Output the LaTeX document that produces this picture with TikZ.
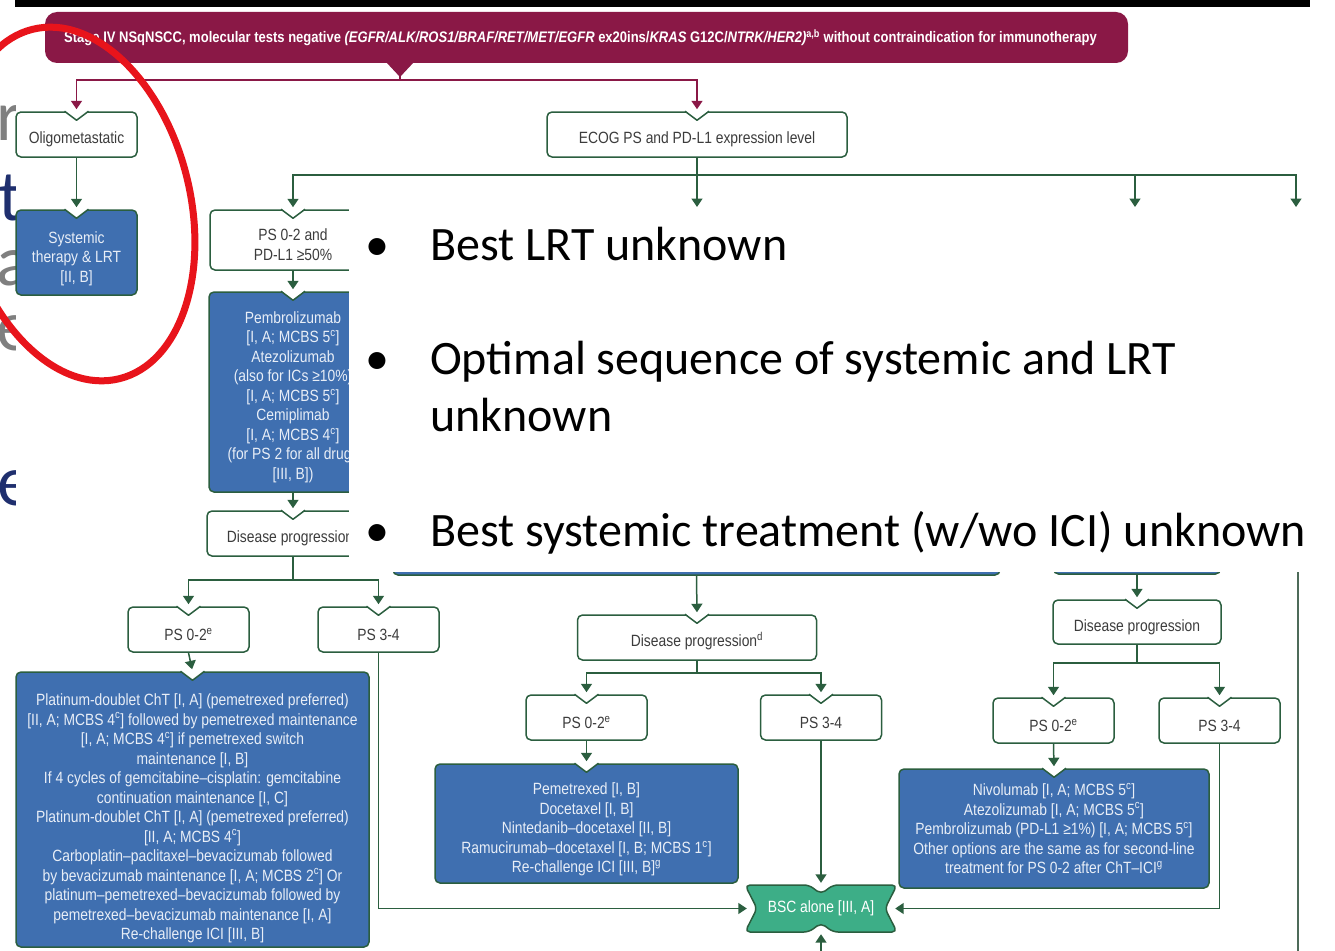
\documentclass[tikz,border=0pt]{standalone}
\usepackage{fontspec}
\setmainfont{Liberation Sans}
\newfontfamily\condf[FakeStretch=0.85]{Liberation Sans}
\newfontfamily\calf{Carlito}
\usetikzlibrary{arrows.meta,calc}
\definecolor{maroon}{HTML}{8A1846}
\definecolor{lc}{HTML}{2B5E3F}
\definecolor{bl}{HTML}{3F6FB0}
\definecolor{bt}{HTML}{E8EEF7}
\definecolor{tw}{HTML}{3C3C3C}
\definecolor{bscgreen}{HTML}{3DAE87}
\definecolor{redc}{HTML}{E8141B}
\definecolor{grayl}{HTML}{7F7F7F}
\definecolor{navy}{HTML}{1F2F6E}
\tikzset{
  boxbase/.style={rectangle, rounded corners=5pt, line width=1.5pt, draw=lc, inner sep=0pt, align=center, font=\condf\fontsize{16.3}{19.5}\selectfont},
  wbox/.style={boxbase, fill=white, text=tw},
  bbox/.style={boxbase, fill=bl, text=bt},
  conn/.style={draw=lc, line width=1.5pt, -{Triangle[width=11pt,length=8.5pt]}, shorten >=2pt},
  sconn/.style={draw=lc, line width=1.5pt, -{Triangle[width=11pt,length=8.5pt]}, shorten >=-2pt},
  ln/.style={draw=lc, line width=1.5pt},
  mconn/.style={draw=maroon, line width=1.6pt, -{Triangle[width=11pt,length=8.5pt]}, shorten >=2pt},
  mln/.style={draw=maroon, line width=1.6pt},
  bul/.style={font=\calf\fontsize{48}{57}\selectfont, inner sep=0pt, text=black},
  edgeletter/.style={inner sep=0pt, anchor=base west, font=\calf\fontsize{72}{72}\selectfont},
}
% empty first line that pushes the text of a box a little down (below the notch)
\newcommand\tg[1]{\mbox{}\\[#1]}
\newcommand\mynotch[1]{%
  \fill[white] ($(#1.north)+(-12pt,1pt)$) -- ($(#1.north)+(0,-9pt)$) -- ($(#1.north)+(12pt,1pt)$) -- cycle;
  \draw[ln, line join=round] ($(#1.north)+(-12pt,0)$) -- ($(#1.north)+(0,-9pt)$) -- ($(#1.north)+(12pt,0)$);}
\begin{document}
\begin{tikzpicture}[x=1pt,y=-1pt]
\useasboundingbox (0,0) rectangle (1335,950);
\clip (0,0) rectangle (1335,950);

% slide letters at left edge
\begin{scope}
  \clip (0,0) rectangle (15,950);
  \node[edgeletter, text=grayl] (l1) at (-4,140) {r};
  \node[edgeletter, text=navy] (l2) at (-2,220) {t};
  \node[edgeletter, text=grayl] (l3) at (-4,285) {a};
  \node[edgeletter, text=grayl] (l4) at (-4,350) {e:};
  \node[edgeletter, text=navy] (l5) at (-3,505) {ed};
\end{scope}

% top bar
\fill[black] (15,0) rectangle (1310,7);

% header
\node[fill=maroon, rounded corners=12pt, minimum width=1083pt, minimum height=51pt, inner sep=0pt, text=white, font=\condf\bfseries\fontsize{15.3}{18}\selectfont] (hdr) at (586.5,37.5)
  {Stage IV NSqNSCC, molecular tests negative \textit{(EGFR/ALK/ROS1/BRAF/RET/MET/EGFR} ex20ins/\textit{KRAS} G12C/\textit{NTRK/HER2)}\textsuperscript{a,b} without contraindication for immunotherapy\hspace*{12pt}};
\fill[maroon] (386,62) -- (414,62) -- (400,77) -- cycle;
\coordinate (hp) at (400,70);
\coordinate (hsplit) at (400,80);

% nodes
\node[wbox, minimum width=121pt, minimum height=45pt] (oligo) at (76.5,134.5) {\tg{2.5pt}Oligometastatic};
\node[bbox, minimum width=121pt, minimum height=85pt] (sys) at (76.5,252.5) {\tg{4.5pt}Systemic\\therapy \& LRT\\{}[II, B]};
\node[wbox, minimum width=300pt, minimum height=45pt] (ecog) at (697,134.5) {\tg{2.5pt}ECOG PS and PD-L1 expression level};
\node[wbox, minimum width=166pt, minimum height=60pt] (pdl1) at (293,240) {\tg{2pt}PS 0-2 and\\PD-L1 ≥50\%};
\node[bbox, minimum width=168pt, minimum height=200pt] (pembro) at (293,392) {\tg{2.5pt}Pembrolizumab\\{}[I, A; MCBS 5\textsuperscript{c}]\\Atezolizumab\\(also for ICs ≥10\%)\\{}[I, A; MCBS 5\textsuperscript{c}]\\Cemiplimab\\{}[I, A; MCBS 4\textsuperscript{c}]\\(for PS 2 for all drugs\\{}[III, B])};
\node[wbox, minimum width=172pt, minimum height=45pt] (dp1) at (293,533.5) {\tg{2.5pt}Disease progression\textsuperscript{d}};
\node[wbox, minimum width=121pt, minimum height=45pt] (ps02a) at (188.5,629.5) {\tg{2.5pt}PS 0-2\textsuperscript{e}};
\node[wbox, minimum width=121pt, minimum height=45pt] (ps34a) at (378.5,629.5) {\tg{2.5pt}PS 3-4};
\node[bbox, minimum width=353pt, minimum height=275pt] (big) at (192.5,809.5) {\tg{10pt}Platinum-doublet ChT [I, A] (pemetrexed preferred)\\{}[II, A; MCBS 4\textsuperscript{c}] followed by pemetrexed maintenance\\{}[I, A; MCBS 4\textsuperscript{c}] if pemetrexed switch\\maintenance [I, B]\\If 4 cycles of gemcitabine–cisplatin: gemcitabine\\continuation maintenance [I, C]\\Platinum-doublet ChT [I, A] (pemetrexed preferred)\\{}[II, A; MCBS 4\textsuperscript{c}]\\Carboplatin–paclitaxel–bevacizumab followed\\by bevacizumab maintenance [I, A; MCBS 2\textsuperscript{c}] Or\\platinum–pemetrexed–bevacizumab followed by\\pemetrexed–bevacizumab maintenance [I, A]\\Re-challenge ICI [III, B]};

\node[bbox, minimum width=607pt, minimum height=135pt] (hidM) at (696.5,507.5) {};
\node[bbox, minimum width=167pt, minimum height=134pt] (hidR) at (1137,507) {};

\node[wbox, minimum width=239pt, minimum height=45pt] (dp2) at (697,637.5) {\tg{2.5pt}Disease progression\textsuperscript{d}};
\node[wbox, minimum width=121pt, minimum height=45pt] (ps02b) at (586.5,717.5) {\tg{2.5pt}PS 0-2\textsuperscript{e}};
\node[wbox, minimum width=121pt, minimum height=45pt] (ps34b) at (821,717.5) {\tg{2.5pt}PS 3-4};
\node[bbox, minimum width=303pt, minimum height=119pt] (midb) at (586.5,823.5) {\tg{4.5pt}Pemetrexed [I, B]\\Docetaxel [I, B]\\Nintedanib–docetaxel [II, B]\\Ramucirumab–docetaxel [I, B; MCBS 1\textsuperscript{c}]\\Re-challenge ICI [III, B]\textsuperscript{g}};

\node[wbox, minimum width=168pt, minimum height=44pt] (dp3) at (1137,622) {\tg{2.5pt}Disease progression};
\node[wbox, minimum width=121pt, minimum height=45pt] (ps02c) at (1053.5,720.5) {\tg{2.5pt}PS 0-2\textsuperscript{e}};
\node[wbox, minimum width=121pt, minimum height=45pt] (ps34c) at (1219.5,720.5) {\tg{2.5pt}PS 3-4};
\node[bbox, minimum width=310pt, minimum height=119pt] (rightb) at (1054,828.5) {Nivolumab [I, A; MCBS 5\textsuperscript{c}]\\Atezolizumab [I, A; MCBS 5\textsuperscript{c}]\\Pembrolizumab (PD-L1 ≥1\%) [I, A; MCBS 5\textsuperscript{c}]\\Other options are the same as for second-line\\treatment for PS 0-2 after ChT–ICI\textsuperscript{g}};

% BSC shape
\draw[fill=bscgreen, draw=lc, line width=1.5pt, rounded corners=5pt]
  (745,885) -- (809,885) -- (821,894) -- (833,885) -- (897,885) -- (885,908.5) -- (897,932)
  -- (833,932) -- (821,923) -- (809,932) -- (745,932) -- (757,908.5) -- cycle;
\node[inner sep=0pt, minimum width=152pt, minimum height=47pt, text=white, font=\condf\fontsize{16.3}{19.5}\selectfont] (bsc) at (821,908.5) {BSC alone [III, A]};

% notches
\foreach \n in {oligo,sys,ecog,pdl1,pembro,dp1,ps02a,ps34a,big,dp2,ps02b,ps34b,midb,dp3,ps02c,ps34c,rightb}{\mynotch{\n}}

% coordinates
\coordinate (esplit) at (697,175);
\coordinate (hidA) at (697,209);
\coordinate (hidB) at (1135,209);
\coordinate (hidC) at (1296,209);
\coordinate (s1) at (293,580);
\coordinate (s2) at (697,673);
\coordinate (s3) at (1137,663);
\coordinate (bscin) at (821,955);
\coordinate (rv1) at (1298,572);
\coordinate (rv2) at (1298,955);

% connectors
\draw[mln] (hp) -- (hsplit);
\draw[mconn] (hsplit) -| (oligo.north);
\draw[mconn] (hsplit) -| (ecog.north);
\draw[conn] (oligo.south) -- (sys.north);
\draw[ln] (ecog.south) -- (esplit);
\draw[conn] (esplit) -| (pdl1.north);
\draw[conn] (ecog.south) -- (hidA);
\draw[conn] (esplit) -| (hidB);
\draw[conn] (esplit) -| (hidC);
\draw[conn] (pdl1.south) -- (pembro.north);
\draw[conn] (pembro.south) -- (dp1.north);
\draw[ln] (dp1.south) -- (s1);
\draw[conn] (s1) -| (ps02a.north);
\draw[conn] (s1) -| (ps34a.north);
\draw[conn] (ps02a.south) -- (big.north);
\draw[sconn] (ps34a.south) |- (bsc.west);
\draw[conn] (hidM.south) -- (dp2.north);
\draw[ln] (dp2.south) -- (s2);
\draw[conn] (s2) -| (ps02b.north);
\draw[conn] (s2) -| (ps34b.north);
\draw[conn] (ps02b.south) -- (midb.north);
\draw[conn] (ps34b.south) -- (bsc.north);
\draw[conn] (hidR.south) -- (dp3.north);
\draw[ln] (dp3.south) -- (s3);
\draw[conn] (s3) -| (ps02c.north);
\draw[conn] (s3) -| (ps34c.north);
\draw[conn] (ps02c.south) -- (rightb.north);
\draw[sconn] (ps34c.south) |- (bsc.east);
\draw[conn] (bscin) -- (bsc.south);

% white overlay with bullets
\fill[white] (349,207) rectangle (1340,572);
\node[bul, anchor=base] (d1) at (377,260) {•};
\node[bul, anchor=base west] (t1) at (430,260) {Best LRT unknown};
\node[bul, anchor=base] (d2) at (377,374) {•};
\node[bul, anchor=base west] (t2) at (430,374) {Optimal sequence of systemic and LRT};
\node[bul, anchor=base west] (t2b) at (430,431) {unknown};
\node[bul, anchor=base] (d3) at (377,546) {•};
\node[bul, anchor=base west] (t3) at (430,546) {Best systemic treatment (w/wo ICI) unknown};

\draw[draw=lc!60!gray, line width=1.8pt] (rv1) -- (rv2);

% red ellipse
\draw[redc, line width=7pt, rotate around={14:(76,204)}] (76,204) ellipse [x radius=114pt, y radius=180pt];
\end{tikzpicture}
\end{document}
